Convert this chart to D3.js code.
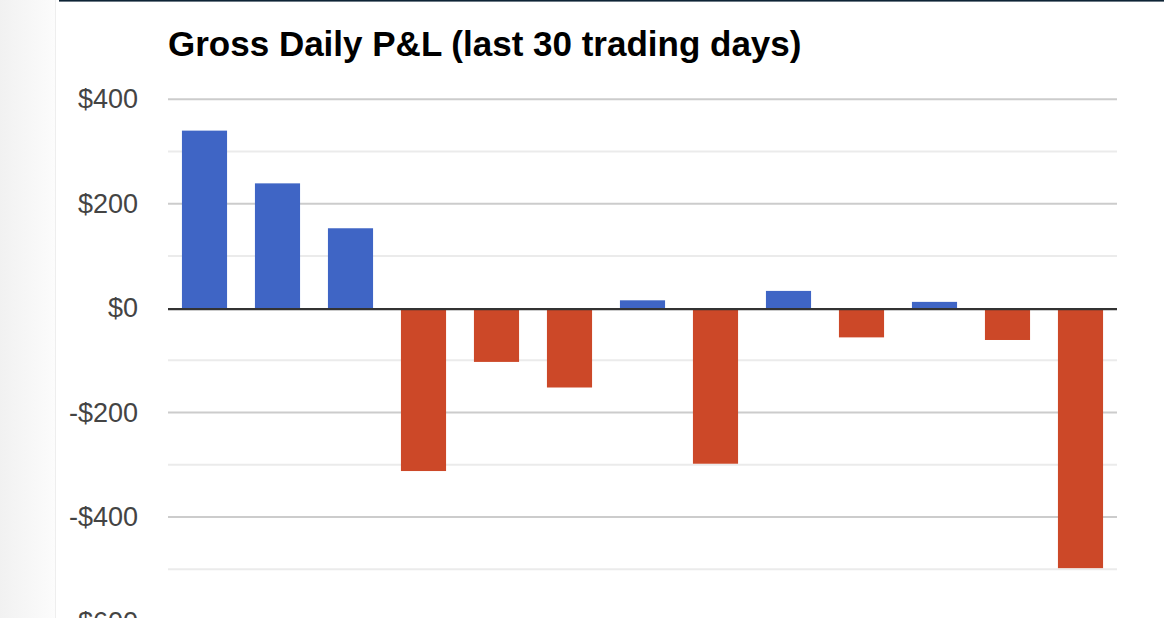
<!DOCTYPE html>
<html>
<head>
<meta charset="utf-8">
<script src="https://cdn.jsdelivr.net/npm/d3@7"></script>
<style>
  body { margin: 0; background: #fff; }
  svg { display: block; }
</style>
</head>
<body>
<script>
// daily gross P&L, one bar per trading day
var days = ["1", "2", "3", "4", "5", "6", "7", "8", "9", "10", "11", "12", "13"];
var pnl = [340, 239, 153, -312, -103, -152, 15, -298, 33, -56, 12, -61, -498];
var labelTicks = [-600, -400, -200, 0, 200, 400];
var gridTicks = [-600, -500, -400, -300, -200, -100, 0, 100, 200, 300, 400];

var width = 1164;
var height = 618;
var plot = { left: 168, right: 1117, top: 99.3, bottom: 621.4 };

var svg = d3.select("body").append("svg")
    .attr("width", width)
    .attr("height", height);

// grey side panel + dark rule at the top of the page
var grad = svg.append("defs").append("linearGradient")
    .attr("id", "side")
    .attr("x1", "0").attr("x2", "1").attr("y1", "0").attr("y2", "0");
grad.append("stop").attr("offset", "0").attr("stop-color", "#f1f1f1");
grad.append("stop").attr("offset", "1").attr("stop-color", "#fcfcfc");

svg.append("rect")
    .attr("x", 0).attr("y", 0)
    .attr("width", 55).attr("height", height)
    .attr("fill", "url(#side)");
svg.append("line")
    .attr("x1", 55.5).attr("x2", 55.5)
    .attr("y1", 0).attr("y2", height)
    .attr("stroke", "#eeeeee");
svg.append("rect")
    .attr("x", 59).attr("y", 0)
    .attr("width", width - 59).attr("height", 1.6)
    .attr("fill", "#0e2435");

var x = d3.scaleBand()
    .domain(days)
    .range([plot.left, plot.right])
    .paddingInner(0.382)
    .paddingOuter(0.191);

var y = d3.scaleLinear()
    .domain([-600, 400])
    .range([plot.bottom, plot.top]);

svg.append("text")
    .attr("x", 168)
    .attr("y", 56)
    .attr("font-family", "Liberation Sans, Arial, sans-serif")
    .attr("font-weight", "bold")
    .attr("font-size", 35)
    .attr("fill", "#000")
    .text("Gross Daily P&L (last 30 trading days)");

// gridlines
svg.append("g")
    .selectAll("line")
    .data(gridTicks.filter(d => d !== 0))
    .enter()
    .append("line")
    .attr("x1", plot.left)
    .attr("x2", plot.right)
    .attr("y1", d => y(d))
    .attr("y2", d => y(d))
    .attr("stroke", d => d % 200 === 0 ? "#cccccc" : "#ebebeb")
    .attr("stroke-width", 2);

var yAxis = g => g
    .attr("transform", `translate(${plot.left},0)`)
    .call(d3.axisLeft(y)
        .tickValues(labelTicks)
        .tickSize(0)
        .tickPadding(30)
        .tickFormat(d => (d < 0 ? "-$" : "$") + Math.abs(d)))
    .call(g => g.select(".domain").remove())
    .call(g => g.selectAll("text")
        .attr("font-family", "Liberation Sans, Arial, sans-serif")
        .attr("font-size", 27)
        .attr("fill", "#444"));

svg.append("g")
    .call(yAxis);

// bars
svg.append("g")
    .selectAll("rect")
    .data(pnl)
    .enter()
    .append("rect")
    .attr("x", (d, i) => x(days[i]))
    .attr("y", d => y(Math.max(0, d)))
    .attr("height", d => Math.abs(y(d) - y(0)))
    .attr("width", x.bandwidth())
    .attr("fill", d => d >= 0 ? "#3f65c5" : "#cc4828");

// zero baseline on top of the bars
svg.append("line")
    .attr("x1", plot.left)
    .attr("x2", plot.right)
    .attr("y1", y(0) + 1)
    .attr("y2", y(0) + 1)
    .attr("stroke", "#333")
    .attr("stroke-width", 2.4);
</script>
</body>
</html>
